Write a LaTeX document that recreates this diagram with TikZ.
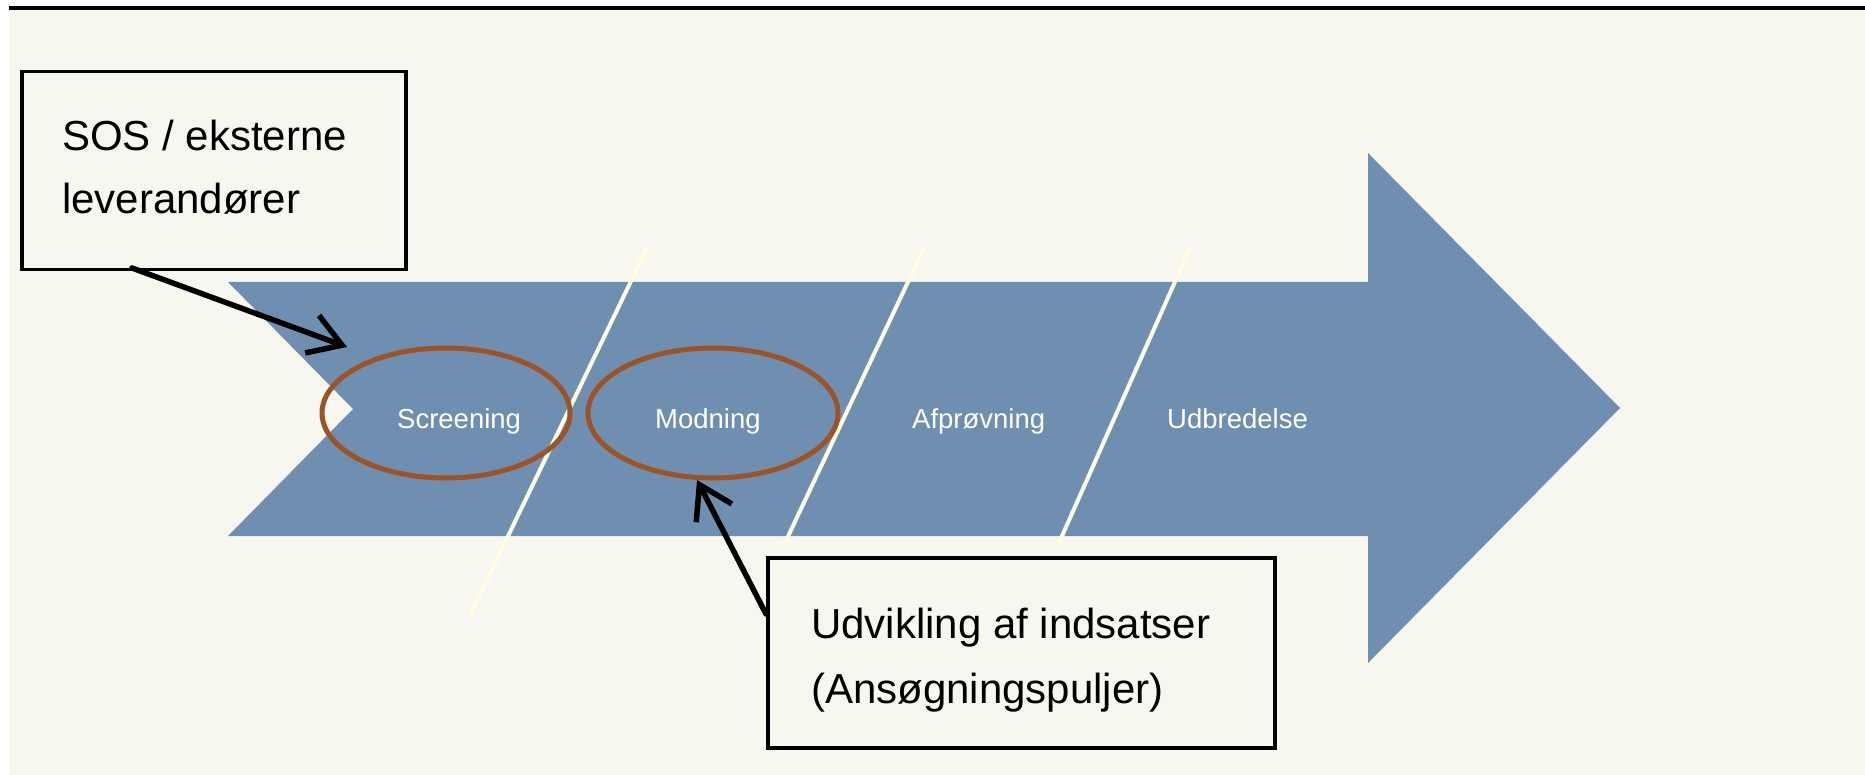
\documentclass[tikz,border=0pt]{standalone}
\usepackage{fontspec}
\setmainfont{Liberation Sans}
\usetikzlibrary{arrows.meta,shapes.geometric}
\definecolor{bgcream}{RGB}{247,247,239}
\definecolor{arrowblue}{RGB}{111,143,176}
\definecolor{ringbrown}{RGB}{156,84,38}
\definecolor{divline}{RGB}{255,254,225}
\begin{document}
\begin{tikzpicture}[x=1pt,y=-1pt,
  callout/.style={draw=black, line width=3.5pt, fill=bgcream, inner sep=0pt, anchor=north west},
  calltext/.style={anchor=base west, font=\fontsize{42}{63}\selectfont, text=black, inner sep=0pt},
  phase/.style={anchor=base west, font=\fontsize{27.5}{33}\selectfont, text=white, inner sep=0pt},
  ring/.style={draw=ringbrown, line width=5pt, ellipse, inner sep=0pt},
  divider/.style={draw=divline, line width=4pt},
  pointer/.style={draw=black, line width=5.5pt, line cap=round, -{Straight Barb[length=32pt,width=40pt]}}
]
\useasboundingbox (0,0) rectangle (1865,775);
% background
\fill[white] (0,0) rectangle (1865,775);
\fill[bgcream] (9,9) rectangle (1865,775);
\draw[black, line width=3.5pt] (9,8) -- (1865,8);
% big process arrow
\fill[arrowblue] (228,282) -- (1368,282) -- (1368,153) -- (1620,408) -- (1368,663)
  -- (1368,536) -- (228,536) -- (353,409) -- cycle;
% dividers
\draw[divider] (647,248) -- (470,615);
\draw[divider] (924,248) -- (784,545);
\draw[divider] (1190,248) -- (1058,545);
% rings
\node[ring, minimum width=248pt, minimum height=130pt] (scr) at (446,413) {};
\node[ring, minimum width=250pt, minimum height=130pt] (mod) at (713,413) {};
% phase labels
\node[phase] (l1) at (397,428) {Screening};
\node[phase] (l2) at (655,428) {Modning};
\node[phase] (l3) at (912,428) {Afprøvning};
\node[phase] (l4) at (1167,428) {Udbredelse};
% callout boxes
\node[callout, minimum width=384pt, minimum height=198pt] (sos) at (20,70) {};
\node[calltext] (sos1) at (62,151) {SOS / eksterne};
\node[calltext] (sos2) at (62,214) {leverandører};
\node[callout, minimum width=507pt, minimum height=190pt] (udv) at (766,556) {};
\node[calltext] (udv1) at (811,638) {Udvikling af indsatser};
\node[calltext] (udv2) at (811,703) {(Ansøgningspuljer)};
% pointers
\coordinate (p1s) at (132,268);
\coordinate (p1e) at (347,347);
\coordinate (p2s) at (766,614);
\coordinate (p2e) at (697,480);
\draw[pointer] (p1s) -- (p1e);
\draw[pointer] (p2s) -- (p2e);
\end{tikzpicture}
\end{document}
